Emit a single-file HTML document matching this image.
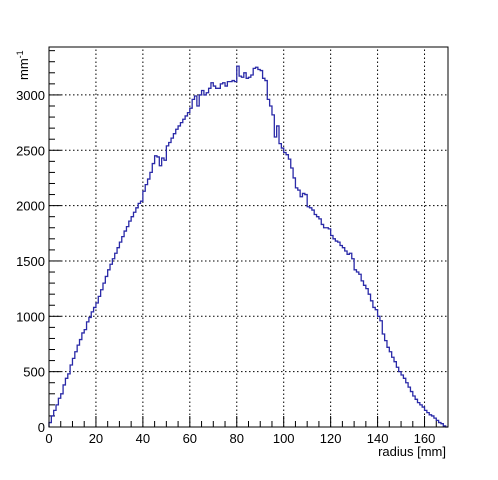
<!DOCTYPE html>
<html><head><meta charset="utf-8"><style>
body{margin:0;background:#fff;}
svg text{font-family:"Liberation Sans",sans-serif;font-size:13px;fill:#000;}
</style></head><body>
<svg id="chart" width="498" height="475" xmlns="http://www.w3.org/2000/svg">
<rect width="498" height="475" fill="#fff"/>
<g id="grid"></g>
<g id="ticks"></g>
<path id="hist" fill="none" stroke="#2a2aa8" stroke-width="1.3"/>
<rect x="49" y="47" width="399" height="380" fill="none" stroke="#000" stroke-width="1"/>
<text x="446" y="456" text-anchor="end">radius [mm]</text>
<text transform="translate(28,80) rotate(-90)">mm<tspan dy="-5" font-size="9">-1</tspan></text>
</svg>
<script>
const xTicks=[0,20,40,60,80,100,120,140,160];
const yTicks=[0,500,1000,1500,2000,2500,3000];
const binValues=[
40,100,150,200,260,300,380,440,480,560,
620,680,740,790,850,880,950,990,1040,1080,
1120,1180,1240,1300,1360,1420,1470,1520,1570,1620,
1670,1720,1770,1810,1860,1900,1940,1980,2020,2040,
2130,2190,2240,2300,2380,2450,2440,2360,2430,2410,
2540,2570,2610,2650,2690,2720,2750,2780,2810,2840,
2880,2960,2990,2900,3000,3040,3000,3020,3060,3110,
3080,3060,3060,3100,3110,3080,3120,3120,3130,3120,
3260,3170,3160,3200,3150,3160,3180,3240,3250,3230,
3220,3150,3130,2960,2900,2820,2620,2720,2560,2520,
2480,2460,2420,2340,2250,2160,2140,2080,2110,2100,
1990,1980,1960,1920,1900,1880,1830,1800,1800,1790,
1730,1700,1680,1670,1640,1620,1590,1560,1570,1520,
1420,1400,1380,1320,1280,1250,1200,1140,1080,1060,
1000,960,840,780,720,680,630,590,540,500,
470,440,400,360,320,280,250,220,200,180,
150,130,110,100,80,60,40,30,10,0];
const X0=49,X1=448,Y0=427,Y1=47,XMAX=170,YMAX=3433;
const sx=v=>X0+(X1-X0)*v/XMAX;
const sy=v=>Y0-(Y0-Y1)*v/YMAX;
const NS="http://www.w3.org/2000/svg";
const grid=document.getElementById('grid'),ticks=document.getElementById('ticks'),svg=document.getElementById('chart');
function mk(tag,attrs,parent){const e=document.createElementNS(NS,tag);for(const k in attrs)e.setAttribute(k,attrs[k]);parent.appendChild(e);return e;}
xTicks.forEach(t=>{
 const x=sx(t);
 if(t>0){const g=mk('line',{x1:x,x2:x,y1:Y0,y2:Y1,stroke:'#000','stroke-dasharray':'1.5,2.5','stroke-width':1},grid);
 
 }
 const l=mk('line',{x1:x,x2:x,y1:Y0,y2:Y0-11,stroke:'#000'},ticks);
 
 
 const tx=mk('text',{x:x,y:443,'text-anchor':'middle'},svg);tx.textContent=t;
 
 
});
for(let v=5;v<XMAX;v+=5){if(v%20===0)continue;const x=sx(v);
 const l=mk('line',{x1:x,x2:x,y1:Y0,y2:Y0-6,stroke:'#000'},ticks);
 
 }
yTicks.forEach(t=>{
 const y=sy(t);
 if(t>0){const g=mk('line',{x1:X0,x2:X1,y1:y,y2:y,stroke:'#000','stroke-dasharray':'1.5,2.5','stroke-width':1},grid);
 
 }
 const l=mk('line',{x1:X0,x2:X0+12,y1:y,y2:y,stroke:'#000'},ticks);
 
 
 const tx=mk('text',{x:45,y:y+5,'text-anchor':'end'},svg);tx.textContent=t;
 
 
});
for(let v=100;v<YMAX;v+=100){if(v%500===0)continue;const y=sy(v);
 const l=mk('line',{x1:X0,x2:X0+6,y1:y,y2:y,stroke:'#000'},ticks);
 
 }
let d='M'+sx(0)+','+sy(0);
binValues.forEach((v,i)=>{d+=' L'+sx(i)+','+sy(v)+' L'+sx(i+1)+','+sy(v);});
document.getElementById('hist').setAttribute('d',d);
</script>
</body></html>
